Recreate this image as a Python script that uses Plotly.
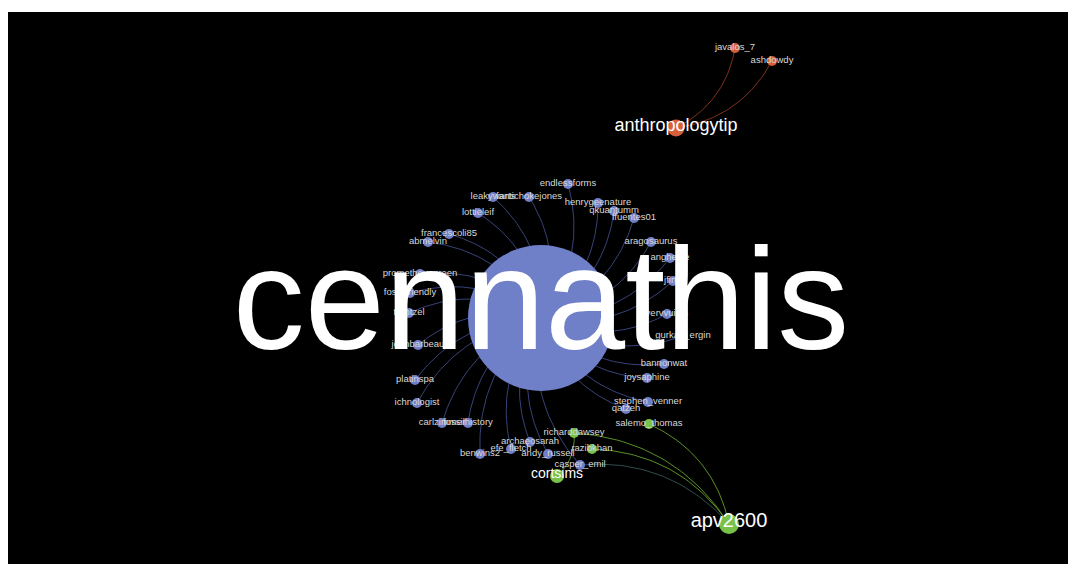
import numpy as np
import plotly.graph_objects as go

# ---- data ----
node_names = ["cennathis", "endlessforms", "leakywarts", "fantichokejones", "henrygeenature",
              "qkuantumm", "ffuentes01", "lottieleif", "francescoli85", "abmelvin",
              "aragosaurus", "anghelee", "jfirth", "vervvuites", "gurkan_ergin",
              "bannonwat", "joysaphine", "stephen_venner", "qatzeh", "prometheusgreen",
              "fossilfriendly", "trentzel", "jeanbarbeau", "platinspa", "ichnologist",
              "carlzimmer", "fossilhistory", "benwins2", "efe_fletch", "archaeosarah",
              "andy_russell", "casper_emil",
              "apv2600", "cortsims", "richarddawsey", "razibkhan", "salemo_thomas",
              "anthropologytip", "javalos_7", "ashdowdy"]
node_x = [541, 568, 493, 529, 598, 614, 634, 478, 449, 428,
          651, 670, 673, 667, 683, 664, 647, 648, 626, 420,
          410, 409, 418, 415, 417, 442, 468, 480, 511, 530,
          548, 580,
          729, 557, 574, 592, 649,
          676, 735, 772]
node_y = [318, 184, 197, 197, 203, 211, 218, 213, 234, 242,
          242, 258, 281, 314, 336, 364, 378, 402, 409, 274,
          293, 313, 345, 380, 403, 423, 423, 454, 449, 442,
          454, 465,
          524, 476, 433, 449, 424,
          128, 48, 61]
node_group = ["blue"] * 32 + ["green"] * 5 + ["orange"] * 3
node_size = [146] + [10] * 31 + [20, 14, 10, 10, 10] + [17, 10, 10]
label_size = [144] + [9.5] * 31 + [20, 14, 9.5, 9.5, 9.5] + [18, 9.5, 9.5]

edge_src = ["cennathis"] * 31 + ["apv2600"] * 4 + ["cortsims"] + ["anthropologytip"] * 2
edge_dst = node_names[1:32] + ["richarddawsey", "razibkhan", "salemo_thomas", "casper_emil",
                                "richarddawsey", "javalos_7", "ashdowdy"]

group_color = {"blue": "#6f7fc8", "green": "#78c24a", "orange": "#d85f3c"}
edge_color = {"blue": "rgba(70,82,150,0.8)", "green": "rgba(100,160,40,0.9)",
              "orange": "rgba(140,55,30,0.9)", "mix": "rgba(55,90,90,0.85)"}

# ---- build figure ----
idx = {n: i for i, n in enumerate(node_names)}
fig = go.Figure()

for s, t in zip(edge_src, edge_dst):
    i, j = idx[s], idx[t]
    x1, y1, x2, y2 = node_x[i], node_y[i], node_x[j], node_y[j]
    dx, dy = x2 - x1, y2 - y1
    cx = (x1 + x2) / 2 - dy * 0.25
    cy = (y1 + y2) / 2 + dx * 0.25
    tt = np.linspace(0, 1, 40)
    bx = (1 - tt) ** 2 * x1 + 2 * (1 - tt) * tt * cx + tt ** 2 * x2
    by = (1 - tt) ** 2 * y1 + 2 * (1 - tt) * tt * cy + tt ** 2 * y2
    gs, gt = node_group[i], node_group[j]
    col = edge_color[gs] if gs == gt else edge_color["mix"]
    fig.add_trace(go.Scatter(x=bx, y=by, mode="lines", line=dict(color=col, width=1),
                             hoverinfo="skip", showlegend=False))

fig.add_trace(go.Scatter(x=node_x, y=node_y, mode="markers",
                         marker=dict(size=node_size, color=[group_color[g] for g in node_group],
                                     opacity=1, line=dict(width=0)),
                         text=node_names, hoverinfo="text", showlegend=False))

small = [k for k in range(len(node_names)) if label_size[k] < 12]
big = [k for k in range(1, len(node_names)) if label_size[k] >= 12]

fig.add_trace(go.Scatter(x=[node_x[k] for k in small], y=[node_y[k] for k in small],
                         mode="text", text=[node_names[k] for k in small],
                         textposition="middle center",
                         textfont=dict(family="Liberation Sans, Arial", size=9.5, color="#d8d8d8"),
                         hoverinfo="skip", showlegend=False))
fig.add_trace(go.Scatter(x=[node_x[k] for k in big], y=[node_y[k] - 2 for k in big],
                         mode="text", text=[node_names[k] for k in big],
                         textposition="middle center",
                         textfont=dict(family="Liberation Sans, Arial",
                                       size=[label_size[k] for k in big], color="#ffffff"),
                         hoverinfo="skip", showlegend=False))
fig.add_trace(go.Scatter(x=[node_x[0]], y=[node_y[0] - 5], mode="text", text=[node_names[0]],
                         textposition="middle center",
                         textfont=dict(family="Liberation Sans, Arial", size=label_size[0],
                                       color="#ffffff"),
                         hoverinfo="skip", showlegend=False))

fig.update_layout(width=1068, height=556, margin=dict(l=0, r=0, t=4, b=0),
                  paper_bgcolor="#ffffff", plot_bgcolor="#000000",
                  xaxis=dict(range=[8, 1076], visible=False, fixedrange=True),
                  yaxis=dict(range=[564, 12], visible=False, fixedrange=True),
                  hovermode="closest")
fig.write_html("out.html")
